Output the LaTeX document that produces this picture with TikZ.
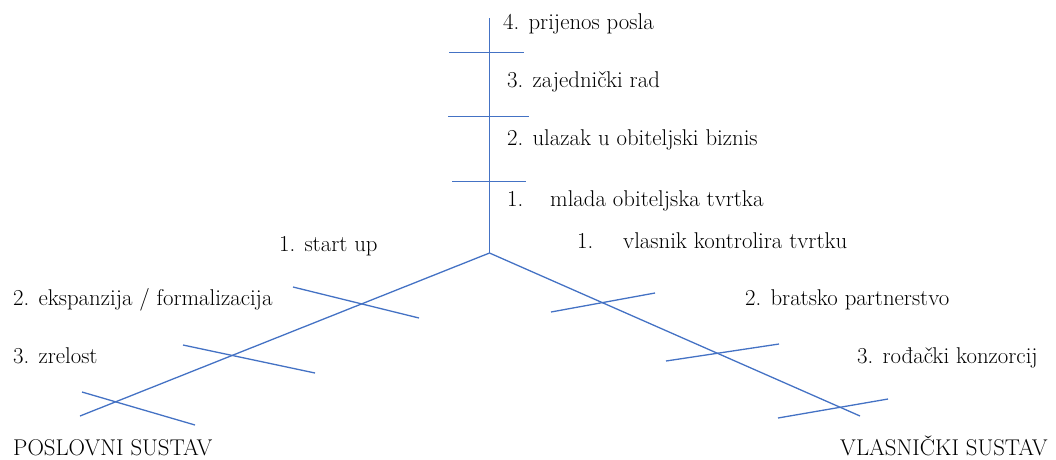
\documentclass[tikz,border=0pt]{standalone}
\definecolor{lineblue}{RGB}{68,114,196}
\begin{document}
\begin{tikzpicture}[x=1pt,y=-1pt,
  axisline/.style={draw=lineblue, line width=1.3pt},
  lbl/.style={anchor=base west, inner sep=0pt, text=black, font=\fontsize{22.8}{27}\selectfont}]
\useasboundingbox (0,0) rectangle (1056,459);
% centre and branch ends
\coordinate (c) at (489.5,253);
\coordinate (top) at (489.5,18);
\coordinate (lend) at (80,416);
\coordinate (rend) at (860,416);
% ticks on vertical
\coordinate (v1a) at (452,181.5); \coordinate (v1b) at (526,181.5);
\coordinate (v2a) at (448,116.5); \coordinate (v2b) at (529,116.5);
\coordinate (v3a) at (449,52.5);  \coordinate (v3b) at (524,52.5);
% ticks on left branch
\coordinate (l1a) at (293,287); \coordinate (l1b) at (419,318);
\coordinate (l2a) at (183,345); \coordinate (l2b) at (315,373);
\coordinate (l3a) at (82,392);  \coordinate (l3b) at (195,425);
% ticks on right branch
\coordinate (r1a) at (551,312); \coordinate (r1b) at (655,293);
\coordinate (r2a) at (666,361); \coordinate (r2b) at (779,344);
\coordinate (r3a) at (778,418); \coordinate (r3b) at (888,399);

\draw[axisline] (top) -- (c);
\draw[axisline] (c) -- (lend);
\draw[axisline] (c) -- (rend);
\foreach \t in {v1,v2,v3,l1,l2,l3,r1,r2,r3}
  \draw[axisline] (\t a) -- (\t b);

% labels
\node[lbl] (p4) at (503,29) {4. prijenos posla};
\node[lbl] (p3) at (507,87) {3. zajednički rad};
\node[lbl] (p2) at (507,145) {2. ulazak u obiteljski biznis};
\node[lbl] (p1) at (507,206) {\makebox[43pt][l]{1.}mlada obiteljska tvrtka};
\node[lbl] (o1) at (577,248) {\makebox[46pt][l]{1.}vlasnik kontrolira tvrtku};
\node[lbl] (o2) at (745,305) {2. bratsko partnerstvo};
\node[lbl] (o3) at (857,363) {3. rođački konzorcij};
\node[lbl] (os) at (840,455) {VLASNIČKI SUSTAV};
\node[lbl] (b1) at (279,251) {1. start up};
\node[lbl] (b2) at (13,305) {2. ekspanzija / formalizacija};
\node[lbl] (b3) at (13,363) {3. zrelost};
\node[lbl] (bs) at (13,455) {POSLOVNI SUSTAV};
\end{tikzpicture}
\end{document}
